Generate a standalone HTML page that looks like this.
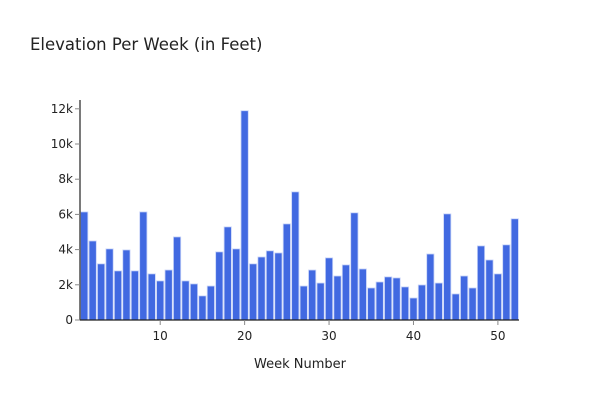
<!DOCTYPE html>
<html><head><meta charset="utf-8"><style>
body{margin:0;background:#fff;font-family:"DejaVu Sans","Liberation Sans",sans-serif}
text{font-family:"DejaVu Sans","Liberation Sans",sans-serif}
</style></head><body>
<svg id="chart" width="600" height="400">
<text x="30" y="50" font-size="16.5" fill="#222">Elevation Per Week (in Feet)</text>
<g id="bars"></g>
<g id="axes"></g>
<text x="300" y="368" font-size="13" fill="#222" text-anchor="middle">Week Number</text>
</svg>
<script>
const weeks = Array.from({length:52},(_, i)=>i+1);
const elevation = [6140,4490,3190,4040,2790,3980,2790,6140,2620,2220,2840,4720,2220,2050,1370,1930,3870,5290,4040,11890,3190,3580,3930,3810,5460,7280,1930,2840,2100,3530,2500,3130,6090,2900,1820,2160,2450,2390,1880,1250,1990,3750,2100,6030,1480,2500,1820,4210,3410,2620,4270,5750];
const yTicks = [0,2000,4000,6000,8000,10000,12000];
const yTickLabels = ["0","2k","4k","6k","8k","10k","12k"];
const xTicks = [10,20,30,40,50];
const X0=80,X1=519,Y0=320,Y1=100;
const xs=w=>X0+(w-0.5)/52*(X1-X0);
const ys=v=>Y0-v/12500*(Y0-Y1);
const NS="http://www.w3.org/2000/svg";
const bars=document.getElementById('bars'),axes=document.getElementById('axes');
const bw=(X1-X0)/52*0.86;
weeks.forEach((w,i)=>{
 const r=document.createElementNS(NS,'rect');
 r.setAttribute('x',xs(w)-bw/2);r.setAttribute('y',ys(elevation[i]));
 r.setAttribute('width',bw);r.setAttribute('height',Y0-ys(elevation[i]));
 r.setAttribute('fill','#4169e1');r.setAttribute('stroke','#c8d4f8');r.setAttribute('stroke-width','0.8');
 
 
 bars.appendChild(r);
});
function line(x1,y1,x2,y2,c,w){const l=document.createElementNS(NS,'line');l.setAttribute('x1',x1);l.setAttribute('y1',y1);l.setAttribute('x2',x2);l.setAttribute('y2',y2);l.setAttribute('stroke',c);l.setAttribute('stroke-width',w);axes.appendChild(l);return l;}
function txt(x,y,s,a){const t=document.createElementNS(NS,'text');t.setAttribute('x',x);t.setAttribute('y',y);t.setAttribute('font-size','12');t.setAttribute('fill','#222');t.setAttribute('text-anchor',a);t.textContent=s;axes.appendChild(t);return t;}
const ya=line(X0,Y1,X0,Y0,'#222',1.2);


const xa=line(X0,Y0,X1,Y0,'#222',1.2);


yTicks.forEach((v,i)=>{
 line(X0-5,ys(v),X0,ys(v),'#888',1);
 const t=txt(X0-7,ys(v)+4,yTickLabels[i],'end');
 
 
});
xTicks.forEach(w=>{
 line(xs(w),Y0,xs(w),Y0+5,'#888',1);
 const t=txt(xs(w),Y0+20,String(w),'middle');
 
 
});
</script>
</body></html>
